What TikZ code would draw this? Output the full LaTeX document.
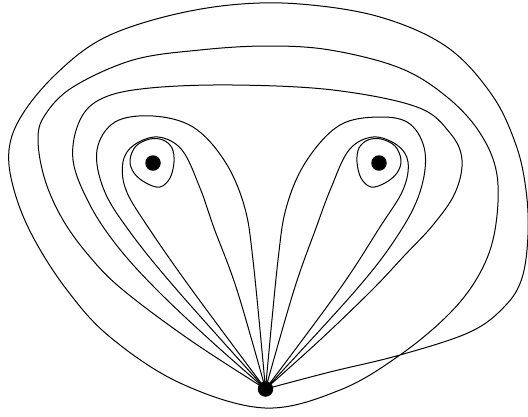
\documentclass[tikz,border=0pt]{standalone}
\begin{document}
\begin{tikzpicture}[x=1pt,y=-1pt,
  curve/.style={line width=1pt, line join=round},
  dot/.style={circle, fill=black, inner sep=0pt, minimum size=15.5pt}]
\useasboundingbox (0,0) rectangle (528,416);
\coordinate (B) at (265.5,389);
% outer wrapping loop
\draw[curve] plot[smooth, tension=0.6] coordinates {(B) (330,372) (400,355) (470,332) (505,306) (522,278) (528,235) (526,190) (516,145) (492,95) (447,47) (380,17) (300,4) (230,5) (160,18) (100,40) (55,75) (22,115) (9,150) (14,190) (33,237) (67,290) (110,337) (180,383) (265,408) (340,390) (400,355) (450,313) (480,273) (495,230) (497,175) (480,133) (447,97) (400,68) (330,50) (267,46) (200,50) (133,60) (73,87) (45,115) (38,140) (45,180) (63,220) (90,257) (123,290) (190,340) (B)};
% inner big loop
\draw[curve] plot[smooth, tension=0.6] coordinates {(B) (210,340) (157,290) (118,247) (90,205) (73,160) (80,120) (103,98) (150,88) (233,85) (333,90) (417,107) (450,133) (462,160) (455,193) (433,225) (404,256) (372,290) (320,340) (B)};
% left lobe
\draw[curve] plot[smooth, tension=0.6] coordinates {(B) (177,290) (130,232) (104,190) (97,150) (115,122) (153,116) (193,127) (224,160) (244,205) (253,260) (B)};
% right lobe
\draw[curve] plot[smooth, tension=0.6] coordinates {(B) (356,290) (398,235) (420,192) (425,152) (410,124) (380,117) (340,125) (307,160) (287,205) (278,260) (B)};
% left teardrop
\draw[curve] plot[smooth, tension=0.6] coordinates {(B) (192,290) (148,227) (126,190) (123,162) (134,145) (158,137) (182,150) (200,188) (214,228) (237,290) (B)};
% right teardrop
\draw[curve] plot[smooth, tension=0.6] coordinates {(B) (339,290) (380,227) (403,190) (408,162) (397,145) (373,137) (349,150) (331,188) (316,228) (294,290) (B)};
% small loops
\draw[curve] plot[smooth cycle, tension=0.6] coordinates {(130,160) (136,146) (150,139) (163,140) (172,148) (174,162) (170,178) (160,187) (146,183) (134,173)};
\draw[curve] plot[smooth cycle, tension=0.6] coordinates {(401,160) (395,146) (381,139) (368,140) (359,148) (357,162) (361,178) (371,187) (385,183) (397,173)};
% points
\node[dot] (base) at (B) {};
\node[dot] (pl) at (153,163) {};
\node[dot] (pr) at (379,163) {};
\end{tikzpicture}
\end{document}
